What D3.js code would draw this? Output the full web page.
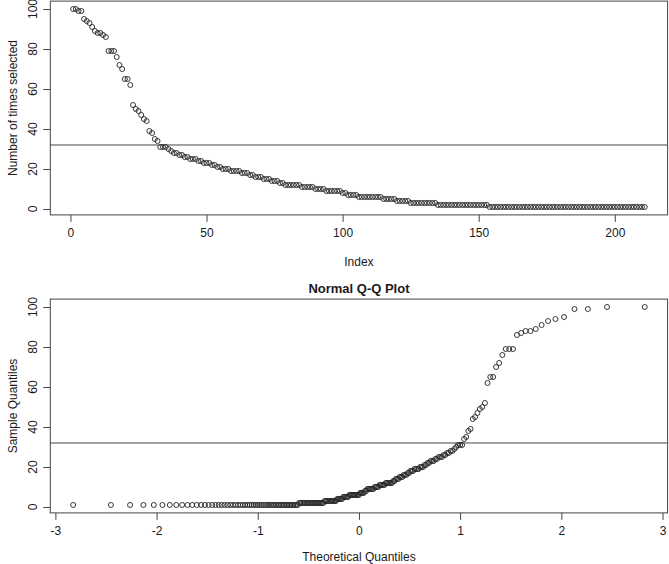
<!DOCTYPE html>
<html>
<head>
<meta charset="utf-8">
<script src="https://cdn.jsdelivr.net/npm/d3@7"></script>
<style>
  body { margin: 0; background: #fff; }
  text { font-family: "Liberation Sans", Arial, sans-serif; fill: #1a1a1a; }
</style>
</head>
<body>
<div id="chart"></div>
<script>
// datos: veces que se selecciono cada variable, ordenado de mayor a menor
var timesSelected = [
  100, 100, 99, 99, 95, 94, 93, 91, 89, 88, 88, 87, 86, 79, 79, 79, 76, 72, 70, 65,
  65, 62, 52, 50, 49, 47, 45, 44, 39, 38, 35, 34, 31, 31, 31, 30, 29, 28, 28, 27,
  27, 26, 26, 25, 25, 25, 24, 24, 23, 23, 23, 22, 22, 21, 21, 20, 20, 20, 19, 19,
  19, 19, 18, 18, 18, 17, 17, 16, 16, 16, 15, 15, 15, 14, 14, 14, 13, 13, 12, 12,
  12, 12, 12, 12, 11, 11, 11, 11, 11, 10, 10, 10, 10, 9, 9, 9, 9, 9, 9, 8,
  8, 7, 7, 7, 7, 6, 6, 6, 6, 6, 6, 6, 6, 6, 5, 5, 5, 5, 5, 4,
  4, 4, 4, 4, 3, 3, 3, 3, 3, 3, 3, 3, 3, 3, 2, 2, 2, 2, 2, 2,
  2, 2, 2, 2, 2, 2, 2, 2, 2, 2, 2, 2, 2, 1, 1, 1, 1, 1, 1, 1,
  1, 1, 1, 1, 1, 1, 1, 1, 1, 1, 1, 1, 1, 1, 1, 1, 1, 1, 1, 1,
  1, 1, 1, 1, 1, 1, 1, 1, 1, 1, 1, 1, 1, 1, 1, 1, 1, 1, 1, 1,
  1, 1, 1, 1, 1, 1, 1, 1, 1, 1, 1
];
var cutoff = 32;

var indexTicks = [0, 50, 100, 150, 200];
var countTicks = [0, 20, 40, 60, 80, 100];
var quantileTicks = [-3, -2, -1, 0, 1, 2, 3];

var width = 669;
var height = 564;
var left = 50.3, right = 667.6;
var panel1 = { top: 1.1, bottom: 214.9, xlabY: 265.9 };
var panel2 = { top: 299.1, bottom: 512.9, xlabY: 560.5 };

// cuantil normal inverso (Acklam), para el Q-Q plot
function qnorm(p) {
  var a = [-3.969683028665376e+01, 2.209460984245205e+02, -2.759285104469687e+02, 1.383577518672690e+02, -3.066479806614716e+01, 2.506628277459239e+00];
  var b = [-5.447609879822406e+01, 1.615858368580409e+02, -1.556989798598866e+02, 6.680131188771972e+01, -1.328068155288572e+01];
  var c = [-7.784894002430293e-03, -3.223964580411365e-01, -2.400758277161838e+00, -2.549732539343734e+00, 4.374664141464968e+00, 2.938163982698783e+00];
  var d = [7.784695709041462e-03, 3.224671290700398e-01, 2.445134137142996e+00, 3.754408661907416e+00];
  var q, r;
  if (p < 0.02425) {
    q = Math.sqrt(-2 * Math.log(p));
    return (((((c[0]*q+c[1])*q+c[2])*q+c[3])*q+c[4])*q+c[5]) / ((((d[0]*q+d[1])*q+d[2])*q+d[3])*q+1);
  } else if (p > 1 - 0.02425) {
    q = Math.sqrt(-2 * Math.log(1 - p));
    return -(((((c[0]*q+c[1])*q+c[2])*q+c[3])*q+c[4])*q+c[5]) / ((((d[0]*q+d[1])*q+d[2])*q+d[3])*q+1);
  }
  q = p - 0.5;
  r = q * q;
  return (((((a[0]*r+a[1])*r+a[2])*r+a[3])*r+a[4])*r+a[5])*q / (((((b[0]*r+b[1])*r+b[2])*r+b[3])*r+b[4])*r+1);
}

// rango con el 4% extra a cada lado, como hace R
function padded(ext) {
  var pad = (ext[1] - ext[0]) * 0.04;
  return [ext[0] - pad, ext[1] + pad];
}

var n = timesSelected.length;
var indexData = timesSelected.map(function (v, i) { return { x: i + 1, y: v }; });
var sorted = timesSelected.slice().sort(function (a, b) { return a - b; });
var qqData = sorted.map(function (v, i) { return { x: qnorm((i + 0.5) / n), y: v }; });

var svg = d3.select("#chart")
  .append("svg")
  .attr("width", width)
  .attr("height", height);

svg.append("rect")
  .attr("width", width)
  .attr("height", height)
  .style("fill", "white");

function drawPanel(p, data, xTicks, xLabel, yLabel, title) {
  var escalaX = d3.scaleLinear()
    .domain(padded(d3.extent(data, function (d) { return d.x; })))
    .range([left, right]);
  var escalaY = d3.scaleLinear()
    .domain(padded(d3.extent(data, function (d) { return d.y; })))
    .range([p.bottom, p.top]);

  var g = svg.append("g");

  // eje X
  var ejeX = d3.axisBottom(escalaX)
    .tickValues(xTicks)
    .tickSize(7)
    .tickPadding(7)
    .tickFormat(function (d) { return d; });
  var gx = g.append("g")
    .attr("transform", "translate(0," + p.bottom + ")")
    .call(ejeX);
  gx.select(".domain").remove();
  gx.selectAll("line").attr("stroke", "#444");
  gx.selectAll("text")
    .style("font-family", "Liberation Sans, Arial, sans-serif")
    .style("font-size", "12px")
    .attr("fill", "#1a1a1a");

  // eje Y (etiquetas giradas como en R)
  var ejeY = d3.axisLeft(escalaY)
    .tickValues(countTicks)
    .tickSize(7)
    .tickFormat("");
  var gy = g.append("g")
    .attr("transform", "translate(" + left + ",0)")
    .call(ejeY);
  gy.select(".domain").remove();
  gy.selectAll("line").attr("stroke", "#444");

  g.selectAll(".ylab")
    .data(countTicks)
    .enter()
    .append("text")
    .attr("transform", function (d) { return "translate(37," + escalaY(d) + ") rotate(-90)"; })
    .attr("text-anchor", "middle")
    .style("font-size", "12px")
    .text(function (d) { return d; });

  // caja
  g.append("rect")
    .attr("x", left)
    .attr("y", p.top)
    .attr("width", right - left)
    .attr("height", p.bottom - p.top)
    .attr("fill", "none")
    .attr("stroke", "#444")
    .attr("stroke-width", 1);

  // linea de corte
  g.append("line")
    .attr("x1", left)
    .attr("x2", right)
    .attr("y1", escalaY(cutoff))
    .attr("y2", escalaY(cutoff))
    .attr("stroke", "#444")
    .attr("stroke-width", 1);

  // puntos
  g.selectAll("circle")
    .data(data)
    .enter()
    .append("circle")
    .attr("cx", function (d) { return escalaX(d.x); })
    .attr("cy", function (d) { return escalaY(d.y); })
    .attr("r", 2.5)
    .attr("fill", "none")
    .attr("stroke", "#222")
    .attr("stroke-width", 0.9);

  // titulos de ejes
  g.append("text")
    .attr("x", (left + right) / 2)
    .attr("y", p.xlabY)
    .attr("text-anchor", "middle")
    .style("font-size", "12px")
    .text(xLabel);

  g.append("text")
    .attr("transform", "translate(17," + (p.top + p.bottom) / 2 + ") rotate(-90)")
    .attr("text-anchor", "middle")
    .style("font-size", "12px")
    .text(yLabel);

  if (title) {
    g.append("text")
      .attr("x", (left + right) / 2)
      .attr("y", p.top - 6)
      .attr("text-anchor", "middle")
      .style("font-size", "13px")
      .style("font-weight", "bold")
      .text(title);
  }
}

drawPanel(panel1, indexData, indexTicks, "Index", "Number of times selected", null);
drawPanel(panel2, qqData, quantileTicks, "Theoretical Quantiles", "Sample Quantiles", "Normal Q-Q Plot");
</script>
</body>
</html>
